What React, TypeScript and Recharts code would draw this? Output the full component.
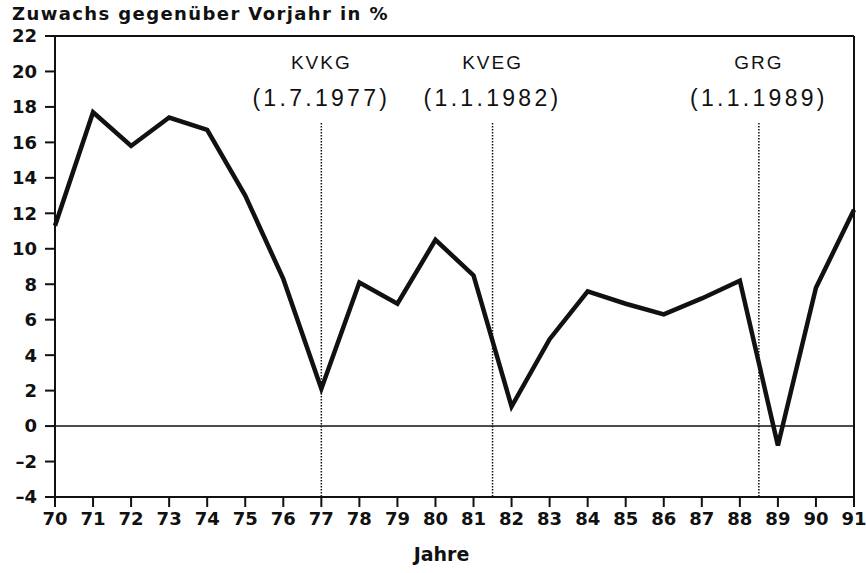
import {
  Line,
  LineChart,
  ReferenceLine,
  XAxis,
  YAxis,
} from "recharts";

const years = [70, 71, 72, 73, 74, 75, 76, 77, 78, 79, 80, 81, 82, 83, 84, 85, 86, 87, 88, 89, 90, 91];
const growth = [11.3, 17.7, 15.8, 17.4, 16.7, 13.0, 8.3, 2.1, 8.1, 6.9, 10.5, 8.5, 1.1, 4.9, 7.6, 6.9, 6.3, 7.2, 8.2, -1.1, 7.8, 12.2];
const yTicks = [-4, -2, 0, 2, 4, 6, 8, 10, 12, 14, 16, 18, 20, 22];

const reforms = [
  { x: 77, name: "KVKG", date: "(1.7.1977)" },
  { x: 81.5, name: "KVEG", date: "(1.1.1982)" },
  { x: 88.5, name: "GRG", date: "(1.1.1989)" },
];

const data = years.map((y, i) => ({ year: y, value: growth[i] }));

const tickStyle = {
  fontSize: 18,
  fontWeight: "bold" as const,
  fill: "#111",
  fontFamily: "DejaVu Sans",
};

function ReformLabel({ viewBox, name, date }: any) {
  const x = viewBox.x;
  const y = viewBox.y;
  return (
    <g fontFamily="Liberation Sans" fill="#111">
      <text x={x} y={y - 54} textAnchor="middle" fontSize={19} letterSpacing={2}>
        {name}
      </text>
      <text x={x} y={y - 17} textAnchor="middle" fontSize={23} letterSpacing={3.3}>
        {date}
      </text>
    </g>
  );
}

export default function App() {
  return (
    <div style={{ position: "absolute", left: 0, top: 0, width: 866, height: 573, background: "#fff" }}>
      <LineChart
        width={866}
        height={573}
        data={data}
        margin={{ top: 36, right: 12, bottom: 0, left: 0 }}
      >
        <text x={12} y={20} fontSize={18} fontWeight="bold" fontFamily="DejaVu Sans" fill="#111" letterSpacing={1.4}>
          Zuwachs gegenüber Vorjahr in %
        </text>
        <XAxis
          dataKey="year"
          type="number"
          domain={[70, 91]}
          ticks={years}
          interval={0}
          tick={tickStyle}
          tickSize={10}
          tickMargin={5}
          stroke="#111"
          strokeWidth={2}
          height={76}
          label={{
            value: "Jahre",
            position: "insideBottom",
            offset: 12,
            dx: -13,
            fontSize: 19,
            fontWeight: "bold",
            fontFamily: "DejaVu Sans",
            fill: "#111",
          }}
        />
        <YAxis
          type="number"
          domain={[-4, 22]}
          ticks={yTicks}
          interval={0}
          width={55}
          tick={tickStyle}
          tickSize={10}
          tickMargin={8}
          stroke="#111"
          strokeWidth={2}
          tickFormatter={(v: number) => (v < 0 ? "–" + Math.abs(v) : String(v))}
        />
        <ReferenceLine y={22} stroke="#111" strokeWidth={2} />
        <ReferenceLine x={91} stroke="#111" strokeWidth={2} />
        <ReferenceLine y={0} stroke="#111" strokeWidth={1.5} />
        {reforms.map((r) => (
          <ReferenceLine
            key={r.name}
            segment={[
              { x: r.x, y: 17.1 },
              { x: r.x, y: -4 },
            ]}
            stroke="#111"
            strokeWidth={1.5}
            strokeDasharray="1.5 1.5"
            label={<ReformLabel name={r.name} date={r.date} />}
          />
        ))}
        <Line
          type="linear"
          dataKey="value"
          stroke="#111"
          strokeWidth={4.5}
          dot={false}
          isAnimationActive={false}
        />
      </LineChart>
    </div>
  );
}
